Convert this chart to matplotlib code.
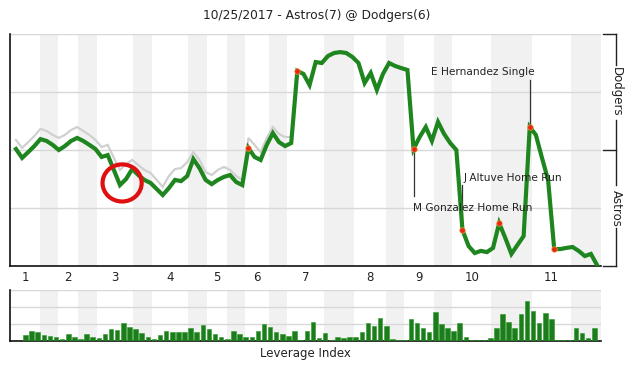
import matplotlib
matplotlib.use("Agg")
import matplotlib.pyplot as plt
import numpy as np
from matplotlib.patches import Ellipse

# ---------------- data ----------------
title = "10/25/2017 - Astros(7) @ Dodgers(6)"

# Dodgers win probability after each plate appearance
win_prob = [0.504, 0.466, 0.491, 0.517, 0.547, 0.539, 0.522, 0.500, 0.517, 0.539,
            0.552, 0.539, 0.522, 0.504, 0.470, 0.478, 0.414, 0.349, 0.375, 0.418,
            0.392, 0.371, 0.358, 0.332, 0.306, 0.336, 0.371, 0.366, 0.388, 0.461,
            0.422, 0.371, 0.353, 0.371, 0.384, 0.392, 0.362, 0.349, 0.509, 0.470,
            0.457, 0.522, 0.573, 0.534, 0.517, 0.530, 0.841, 0.828, 0.780, 0.879,
            0.875, 0.905, 0.918, 0.922, 0.918, 0.901, 0.875, 0.789, 0.832, 0.759,
            0.828, 0.875, 0.862, 0.853, 0.845, 0.504, 0.556, 0.599, 0.539, 0.621,
            0.569, 0.530, 0.500, 0.155, 0.086, 0.056, 0.065, 0.060, 0.078, 0.185,
            0.121, 0.052, 0.091, 0.129, 0.599, 0.565, 0.466, 0.371, 0.073, 0.073,
            0.078, 0.082, 0.065, 0.043, 0.052, 0.004]

# secondary (gray) probability line, early innings
alt_prob = [0.543, 0.509, 0.534, 0.560, 0.591, 0.582, 0.565, 0.552, 0.565, 0.586,
            0.599, 0.582, 0.565, 0.543, 0.513, 0.522, 0.466, 0.414, 0.440, 0.457,
            0.435, 0.414, 0.401, 0.371, 0.341, 0.388, 0.418, 0.422, 0.448, 0.491,
            0.457, 0.405, 0.392, 0.414, 0.427, 0.414, 0.388, 0.371, 0.552, 0.522,
            0.491, 0.552, 0.599, 0.569, 0.556, 0.556, 0.841]

# leverage index per plate appearance
leverage = [0.34, 0.59, 0.53, 0.35, 0.29, 0.24, 0.12, 0.41, 0.24, 0.12,
            0.41, 0.24, 0.18, 0.41, 0.71, 0.65, 1.06, 0.82, 0.71, 0.47,
            0.24, 0.12, 0.35, 0.59, 0.53, 0.53, 0.53, 0.76, 0.53, 0.94,
            0.71, 0.41, 0.24, 0.12, 0.59, 0.41, 0.24, 0.24, 0.59, 1.00,
            0.82, 0.53, 0.41, 0.29, 0.59, 0.03, 0.59, 1.12, 0.18, 0.47,
            0.06, 0.24, 0.18, 0.24, 0.24, 0.53, 1.06, 0.88, 1.35, 0.88,
            0.12, 0.06, 0.03, 1.29, 1.06, 0.76, 0.53, 1.71, 1.00, 0.76,
            0.59, 1.06, 0.24, 0.06, 0.06, 0.06, 0.18, 0.76, 1.59, 1.12,
            0.76, 1.59, 2.35, 1.76, 1.06, 1.65, 1.29, 0.03, 0.03, 0.03,
            0.76, 0.47, 0.18, 0.76]

# half-inning boundaries (bottom halves) in plate-appearance index
bottom_start = [3.9, 10.1, 19.1, 28.1, 34.5, 41.4, 50.4, 60.5, 68.3, 77.7, 90.7]
bottom_end = [6.9, 13.2, 22.2, 31.2, 37.4, 44.3, 55.3, 63.4, 71.3, 84.4, 95.65]
innings = ["1", "2", "3", "4", "5", "6", "7", "8", "9", "10", "11"]

key_events = [38, 46, 65, 73, 79, 84, 88]
annotations = [
    (65, "M Gonzalez Home Run"),
    (73, "J Altuve Home Run"),
    (84, "E Hernandez Single"),
]

# ---------------- drawing ----------------
XMIN, XMAX = -0.98, 95.65
GREEN = "#1f861f"
BAND = "#f1f1f1"
GRID = "#d8d8d8"
TXT = "#222222"

fig = plt.figure(figsize=(6.34, 3.77), dpi=100)
W, H = 634, 377

def frac_box(l, t, r, b):
    return [l / W, 1 - b / H, (r - l) / W, (b - t) / H]

ax = fig.add_axes(frac_box(10, 34, 601, 266))
ax2 = fig.add_axes(frac_box(10, 290, 601, 341))

for a in (ax, ax2):
    a.set_xlim(XMIN, XMAX)
    for s, e in zip(bottom_start, bottom_end):
        a.axvspan(s, e, color=BAND, zorder=0, lw=0)
    for sp in ("top", "right"):
        a.spines[sp].set_visible(False)
    a.spines["left"].set_color("#111111")
    a.spines["bottom"].set_color("#111111")
    a.spines["left"].set_linewidth(1.2)
    a.spines["bottom"].set_linewidth(1.2)
    a.set_xticks([])
    a.set_yticks([])

# main chart
ax.set_ylim(0, 1)
for g in (0.25, 0.5, 0.75, 1.0):
    ax.axhline(g, color=GRID, lw=1.0, zorder=1)

x = np.arange(len(win_prob))
xa = np.arange(len(alt_prob))
ax.plot(xa, alt_prob, color="#d0d0d0", lw=1.6, zorder=2, solid_joinstyle="miter")
ax.plot(x, win_prob, color=GREEN, lw=3.0, zorder=3, solid_joinstyle="miter")
ax.plot(key_events, [win_prob[i] for i in key_events], "o", color="#e8251b",
        ms=4.0, mec="#f0a030", mew=0.5, zorder=4)

# annotations
AFS = 7.6
for idx, label in annotations:
    yv = win_prob[idx]
    if label.startswith("M"):
        ax.plot([idx, idx], [yv, 0.30], color="#333333", lw=0.9, zorder=2)
        ax.text(idx - 0.05, 0.25, label, fontsize=AFS, color=TXT, ha="left", va="center", zorder=5)
    elif label.startswith("J"):
        ax.plot([idx, idx], [yv, 0.35], color="#333333", lw=0.9, zorder=2)
        ax.text(idx + 0.15, 0.38, label, fontsize=AFS, color=TXT, ha="left", va="center", zorder=5)
    else:
        ax.plot([idx, idx], [yv, 0.80], color="#333333", lw=0.9, zorder=2)
        ax.text(idx + 0.75, 0.835, label, fontsize=AFS, color=TXT, ha="right", va="center", zorder=5)

# red circle highlight
ax.add_patch(Ellipse((17.35, 0.358), 6.4, 0.16, fill=False, ec="#e01010", lw=3.0, zorder=6))

# inning labels
starts = [XMIN] + bottom_end[:-1]
for s, e, lab in zip(starts, bottom_start, innings):
    ax.text((s + e) / 2, -0.02, lab, fontsize=8.5, color=TXT, ha="center", va="top",
            transform=ax.get_xaxis_transform())

# right bracket
bx0, bx1 = 1.0035, 1.0255
for yy in (0.0, 0.5, 1.0):
    ax.plot([bx0, bx1], [yy, yy], color="#222222", lw=1.0, transform=ax.transAxes, clip_on=False)
for y0, y1 in ((1.0, 0.865), (0.63, 0.35), (0.165, 0.0)):
    ax.plot([bx1, bx1], [y0, y1], color="#222222", lw=1.0, transform=ax.transAxes, clip_on=False)
ax.text(bx1, 0.75, "Dodgers", rotation=-90, fontsize=8.5, color=TXT, ha="center", va="center",
        transform=ax.transAxes)
ax.text(bx1, 0.25, "Astros", rotation=-90, fontsize=8.5, color=TXT, ha="center", va="center",
        transform=ax.transAxes)

# title
fig.text(0.5, 1 - 16 / H, title, fontsize=8.8, color=TXT, ha="center", va="center")

# leverage chart
ax2.set_ylim(0, 3)
for g in (1, 2, 3):
    ax2.axhline(g, color=GRID, lw=1.0, zorder=1)
xb = np.arange(len(leverage)) + 1.55
ax2.bar(xb, leverage, width=0.74, color="#1d7d1d", edgecolor="#2a9a2a", lw=0.4, zorder=3)
ax2.text(0.5, -0.12, "Leverage Index", fontsize=8.5, color=TXT, ha="center", va="top",
         transform=ax2.transAxes)

fig.savefig("out.png", dpi=100)
